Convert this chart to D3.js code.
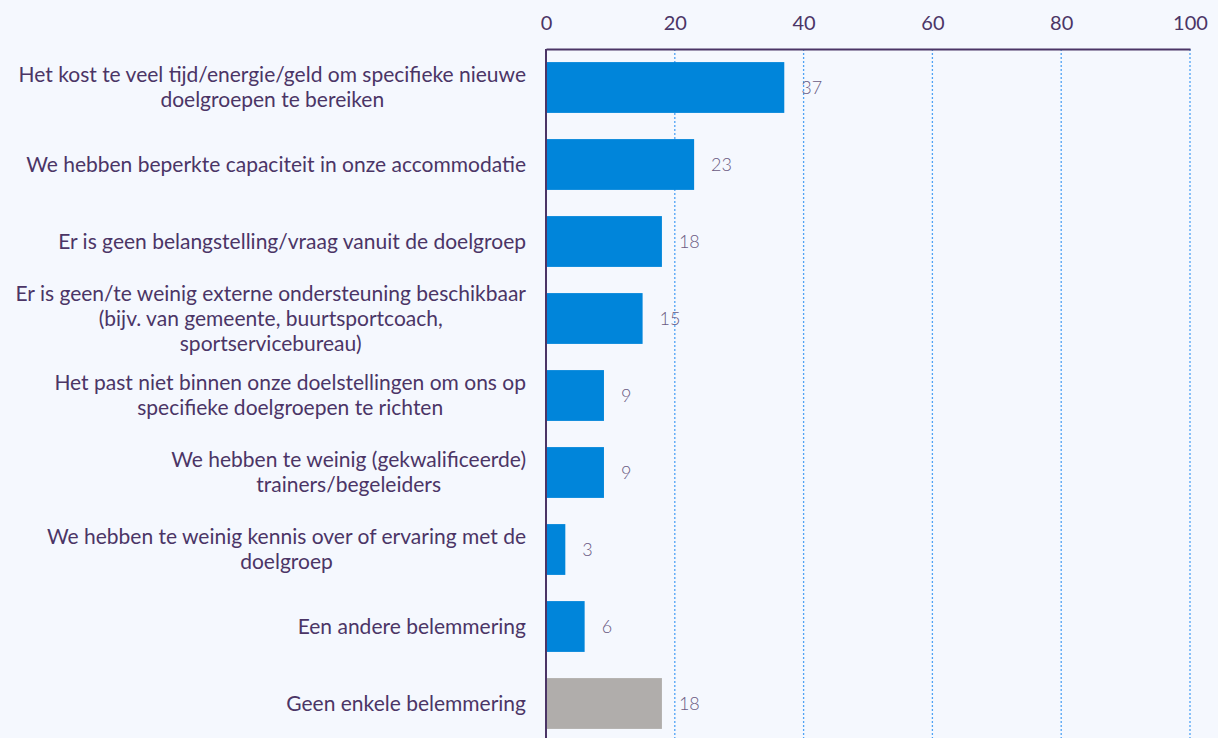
<!DOCTYPE html>
<html>
<head>
<meta charset="utf-8">
<script src="https://cdn.jsdelivr.net/npm/d3@7"></script>
<style>
  body { margin: 0; background: #f5f8fe; }
  svg { display: block; font-family: Lato, "Open Sans", sans-serif; }
</style>
</head>
<body>
<svg id="chart" width="1218" height="738"></svg>
<script>
const categories = [
  ["Het kost te veel tijd/energie/geld om specifieke nieuwe", "doelgroepen te bereiken"],
  ["We hebben beperkte capaciteit in onze accommodatie"],
  ["Er is geen belangstelling/vraag vanuit de doelgroep"],
  ["Er is geen/te weinig externe ondersteuning beschikbaar", "(bijv. van gemeente, buurtsportcoach,", "sportservicebureau)"],
  ["Het past niet binnen onze doelstellingen om ons op", "specifieke doelgroepen te richten"],
  ["We hebben te weinig (gekwalificeerde)", "trainers/begeleiders"],
  ["We hebben te weinig kennis over of ervaring met de", "doelgroep"],
  ["Een andere belemmering"],
  ["Geen enkele belemmering"]
];
const values = [37, 23, 18, 15, 9, 9, 3, 6, 18];
const ticks = [0, 20, 40, 60, 80, 100];

const svg = d3.select("#chart");
const plotLeft = 546, plotRight = 1190, plotTop = 49, plotBottom = 742;

const x = d3.scaleLinear().domain([0, 100]).range([plotLeft, plotRight]);
const y = d3.scaleBand().domain(d3.range(values.length)).range([plotTop, plotBottom])
  .paddingInner(0.34).paddingOuter(0.17);

// grid
svg.append("g").selectAll("line")
  .data(ticks.filter(t => t > 0))
  .join("line")
  .attr("x1", d => x(d)).attr("x2", d => x(d))
  .attr("y1", plotTop).attr("y2", 738)
  .attr("stroke", "#4fa3f5").attr("stroke-width", 1.3)
  .attr("stroke-dasharray", "2,2");

// bars
svg.append("g").selectAll("rect")
  .data(values)
  .join("rect")
  .attr("x", x(0))
  .attr("y", (d, i) => y(i))
  .attr("width", d => x(d) - x(0))
  .attr("height", y.bandwidth())
  .attr("fill", (d, i) => i === values.length - 1 ? "#b0adab" : "#0085da");

// value labels
svg.append("g").selectAll("text")
  .data(values)
  .join("text")
  .attr("x", d => x(d) + 17)
  .attr("y", (d, i) => y(i) + y.bandwidth() / 2)
  .attr("dy", "0.35em")
  .attr("font-size", 18)
  .attr("font-weight", 300)
  .attr("fill", "#6a5a82")
  .text(d => d);

// top axis
const xAxis = svg.append("g")
  .attr("transform", `translate(0,${plotTop})`)
  .call(d3.axisTop(x).tickValues(ticks).tickSize(0).tickPadding(19));
xAxis.select(".domain").attr("stroke", "#4b3566").attr("stroke-width", 2);
xAxis.selectAll("text")
  .attr("font-size", 20)
  .attr("font-family", "Lato, sans-serif")
  .attr("fill", "#4b3566");

// left axis line
svg.append("line")
  .attr("x1", plotLeft).attr("x2", plotLeft)
  .attr("y1", plotTop).attr("y2", 738)
  .attr("stroke", "#4b3566").attr("stroke-width", 2);

// category labels: block right-aligned, lines centred inside it
const lineH = 25;
categories.forEach((lines, i) => {
  const g = svg.append("g");
  const texts = g.selectAll("text")
    .data(lines)
    .join("text")
    .attr("font-size", 21)
    .attr("fill", "#4b3566")
    .attr("text-anchor", "middle")
    .attr("dy", "0.35em")
    .text(d => d);
  const w = d3.max(texts.nodes(), n => n.getComputedTextLength());
  const cx = 526 - w / 2;
  const cy = y(i) + y.bandwidth() / 2;
  texts.attr("x", cx)
    .attr("y", (d, j) => cy + (j - (lines.length - 1) / 2) * lineH);
});
</script>
</body>
</html>
